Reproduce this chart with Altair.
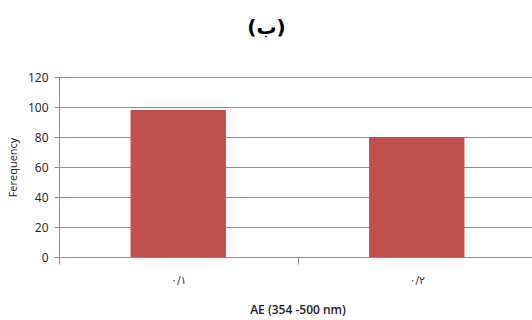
import altair as alt
import pandas as pd

# Frequency of each AE class
categories = ["۰/۱", "۰/۲"]
frequency = [98, 80]
y_ticks = [0, 20, 40, 60, 80, 100, 120]

df = pd.DataFrame({"class": categories, "freq": frequency})

GRID = "#8f8f8f"
BAR = "#C0504D"

bars = alt.Chart(df).mark_bar(
    color=BAR,
    width=alt.RelativeBandSize(0.4),
).encode(
    x=alt.X(
        "class:N",
        sort=categories,
        scale=alt.Scale(paddingInner=0, paddingOuter=0, range=[0, 477]),
        axis=alt.Axis(
            title="AE (354 -500 nm)",
            titleFont="Open Sans",
            titleFontSize=12,
            titleFontWeight=600,
            titleColor="#222222",
            titlePadding=19,
            labelAngle=0,
            labelFont="DejaVu Sans",
            labelFontSize=11,
            labelColor="#333333",
            labelPadding=10,
            tickBand="extent",
            tickSize=7,
            tickColor=GRID,
            domainColor=GRID,
            grid=False,
        ),
    ),
    y=alt.Y(
        "freq:Q",
        scale=alt.Scale(domain=[0, 120], nice=False),
        axis=alt.Axis(
            title="Ferequency",
            titleFont="Open Sans",
            titleFontSize=11,
            titleFontWeight="normal",
            titleColor="#222222",
            titlePadding=9,
            values=y_ticks,
            labelFont="Open Sans",
            labelFontSize=12,
            labelColor="#222222",
            labelPadding=6,
            tickSize=5,
            tickColor=GRID,
            domainColor=GRID,
            gridColor=GRID,
            gridWidth=1,
        ),
    ),
)

chart = bars.properties(
    width=473,
    height=180,
    autosize=alt.AutoSizeParams(type="none"),
    padding={"left": 59, "top": 77, "right": 0, "bottom": 63},
    title=alt.TitleParams(
        "(ب)",
        font="DejaVu Sans",
        fontSize=20,
        fontWeight="bold",
        color="#000000",
        anchor="middle",
        dx=-29,
        offset=33,
    ),
).configure_view(stroke=None).configure(background="white")

chart.save("out.html", embed_options={"renderer": "svg", "actions": False})
